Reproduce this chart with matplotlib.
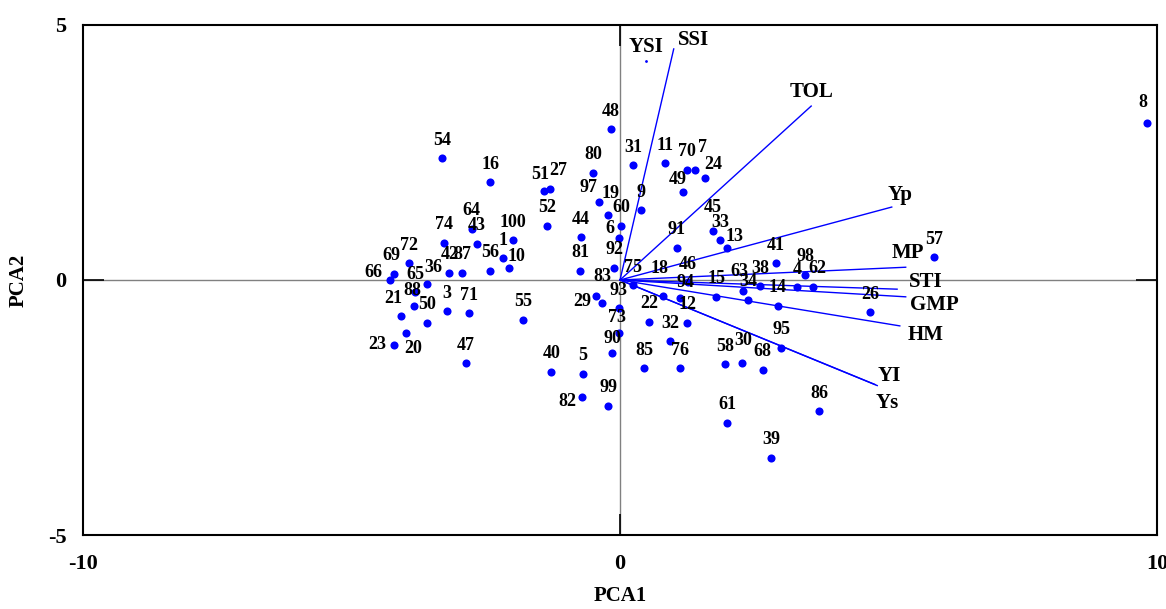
import matplotlib.pyplot as plt

plt.rcParams.update({'font.family': 'Liberation Serif', 'font.weight': 'bold',
                     'axes.unicode_minus': False})

# genotype scores (PCA1, PCA2)
genotypes = ['1', '3', '4', '5', '6', '7', '8', '9', '10', '11', '12', '13', '14', '15', '16', '18',
             '19', '20', '21', '22', '23', '24', '26', '27', '29', '30', '31', '32', '33', '34', '36',
             '38', '39', '40', '41', '42', '43', '44', '45', '46', '47', '48', '49', '50', '51', '52',
             '54', '55', '56', '57', '58', '60', '61', '62', '63', '64', '65', '66', '68', '69', '70',
             '71', '72', '73', '74', '75', '76', '80', '81', '82', '83', '85', '86', '87', '88', '90',
             '91', '92', '93', '94', '95', '97', '98', '99', '100']
pc1 = [-2.18, -3.22, 3.30, -0.69, -0.02, 1.40, 9.81, 0.39, -2.07, 0.84, 1.25, 1.99, 2.94, 1.79, -2.42, 0.80,
       -0.22, -3.98, -4.08, 0.54, -4.21, 1.58, 4.66, -1.30, -0.34, 2.27, 0.24, 0.93, 1.86, 2.38, -3.59,
       2.61, 2.81, -1.28, 2.90, -3.18, -2.66, -0.73, 1.73, 1.27, -2.87, -0.17, 1.17, -3.59, -1.42, -1.36,
       -3.31, -1.81, -2.42, 5.85, 1.96, 0.02, 1.99, 3.59, 2.29, -2.76, -3.82, -4.28, 2.66, -4.21, 1.25,
       -2.81, -3.93, -0.02, -3.28, 0.24, 1.12, -0.50, -0.74, -0.71, -0.45, 0.45, 3.71, -2.94, -3.84, -0.15,
       1.06, -0.11, -0.02, 1.12, 3.00, -0.39, 3.45, -0.22, -1.99]
pc2 = [0.43, -0.61, -0.14, -1.84, 0.82, 2.16, 3.08, 1.37, 0.24, 2.29, -0.84, 0.63, -0.51, -0.33, 1.92, -0.31,
       1.27, -1.04, -0.71, -0.82, -1.27, 2.00, -0.63, 1.78, -0.45, -1.63, 2.25, -1.20, 0.78, -0.39, -0.08,
       -0.12, -3.49, -1.80, 0.33, 0.14, 0.71, 0.84, 0.96, -0.04, -1.63, 2.96, 1.73, -0.84, 1.75, 1.06,
       2.39, -0.78, 0.18, 0.45, -1.65, 1.06, -2.80, -0.14, -0.22, 1.00, -0.24, 0.00, -1.76, 0.12, 2.16,
       -0.65, 0.33, -1.04, 0.73, -0.10, -1.73, 2.10, 0.18, -2.29, -0.31, -1.73, -2.57, 0.14, -0.51, -1.43,
       0.63, 0.24, -0.55, -0.35, -1.33, 1.53, 0.10, -2.47, 0.78]

# trait loadings (vector ends)
traits = ['Yp', 'MP', 'STI', 'GMP', 'HM', 'YI', 'Ys', 'TOL', 'SSI']
trait_pc1 = [5.06, 5.32, 5.16, 5.32, 5.21, 4.79, 4.75, 3.56, 1.00]
trait_pc2 = [1.43, 0.25, -0.18, -0.33, -0.90, -2.07, -2.05, 3.41, 4.53]
ysi_pc1, ysi_pc2 = 0.48, 4.29

# label offsets in pixels (dx, dy)
default_off = (0, 18)
label_off = {'51': (-4, 16), '27': (8, 19), '97': (-11, 14), '19': (2, 22), '6': (-9, 10),
             '7': (7, 22), '24': (8, 13), '49': (-5, 12), '45': (0, 24), '13': (8, 11),
             '62': (5, 19), '63': (-4, 20), '94': (5, 15), '18': (-3, 27), '10': (8, 11),
             '69': (-3, 18), '66': (-17, 7), '36': (6, 17), '83': (7, 19), '29': (-20, 1),
             '82': (-15, -5), '23': (-17, 0), '20': (7, -15), '21': (-8, 18), '88': (-1, 15),
             '30': (1, 23), '73': (-2, 16), '90': (0, 14), '8': (-4, 20)}
trait_off = {'Yp': (8, 12), 'MP': (2, 14), 'STI': (29, 7), 'GMP': (29, -8), 'HM': (26, -9),
             'YI': (12, 10), 'Ys': (12, -18), 'TOL': (0, 14), 'SSI': (20, 9)}

fig = plt.figure(figsize=(11.66, 6.09), dpi=100)
ax = fig.add_axes([0.0712, 0.1215, 0.9211, 0.8375])

ax.axhline(0, color='#808080', lw=1, zorder=1)
ax.axvline(0, color='#808080', lw=1, zorder=1)

for name, tx, ty in zip(traits, trait_pc1, trait_pc2):
    ax.plot([0, tx], [0, ty], color='blue', lw=1, zorder=2)
    dx, dy = trait_off[name]
    ax.annotate(name, (tx, ty), xytext=(dx, dy), textcoords='offset pixels',
                ha='center', va='center', fontsize=15, fontweight='bold')
ax.plot([ysi_pc1], [ysi_pc2], marker='.', ms=2, color='blue')
ax.annotate('YSI', (ysi_pc1, ysi_pc2), xytext=(0, 14), textcoords='offset pixels',
            ha='center', va='center', fontsize=15, fontweight='bold')

ax.scatter(pc1, pc2, s=34, color='blue', zorder=3, linewidths=0)
for name, x, y in zip(genotypes, pc1, pc2):
    dx, dy = label_off.get(name, default_off)
    ax.annotate(name, (x, y), xytext=(dx, dy), textcoords='offset pixels',
                ha='center', va='center', fontsize=13, fontweight='bold', zorder=4)

ax.set_xlim(-10, 10)
ax.set_ylim(-5, 5)
ax.set_xticks([-10, 0, 10])
ax.set_yticks([-5, 0, 5])
ax.tick_params(direction='in', length=15, width=1.2, labelsize=16, pad=12,
               top=True, right=True)
ax.tick_params(axis='x', pad=14)
for s in ax.spines.values():
    s.set_linewidth(1.5)

ax.set_xlabel('PCA1', fontsize=15, fontweight='bold', labelpad=8)
ax.set_ylabel('PCA2', fontsize=15, fontweight='bold', labelpad=14)

plt.savefig('out.png', dpi=100)
